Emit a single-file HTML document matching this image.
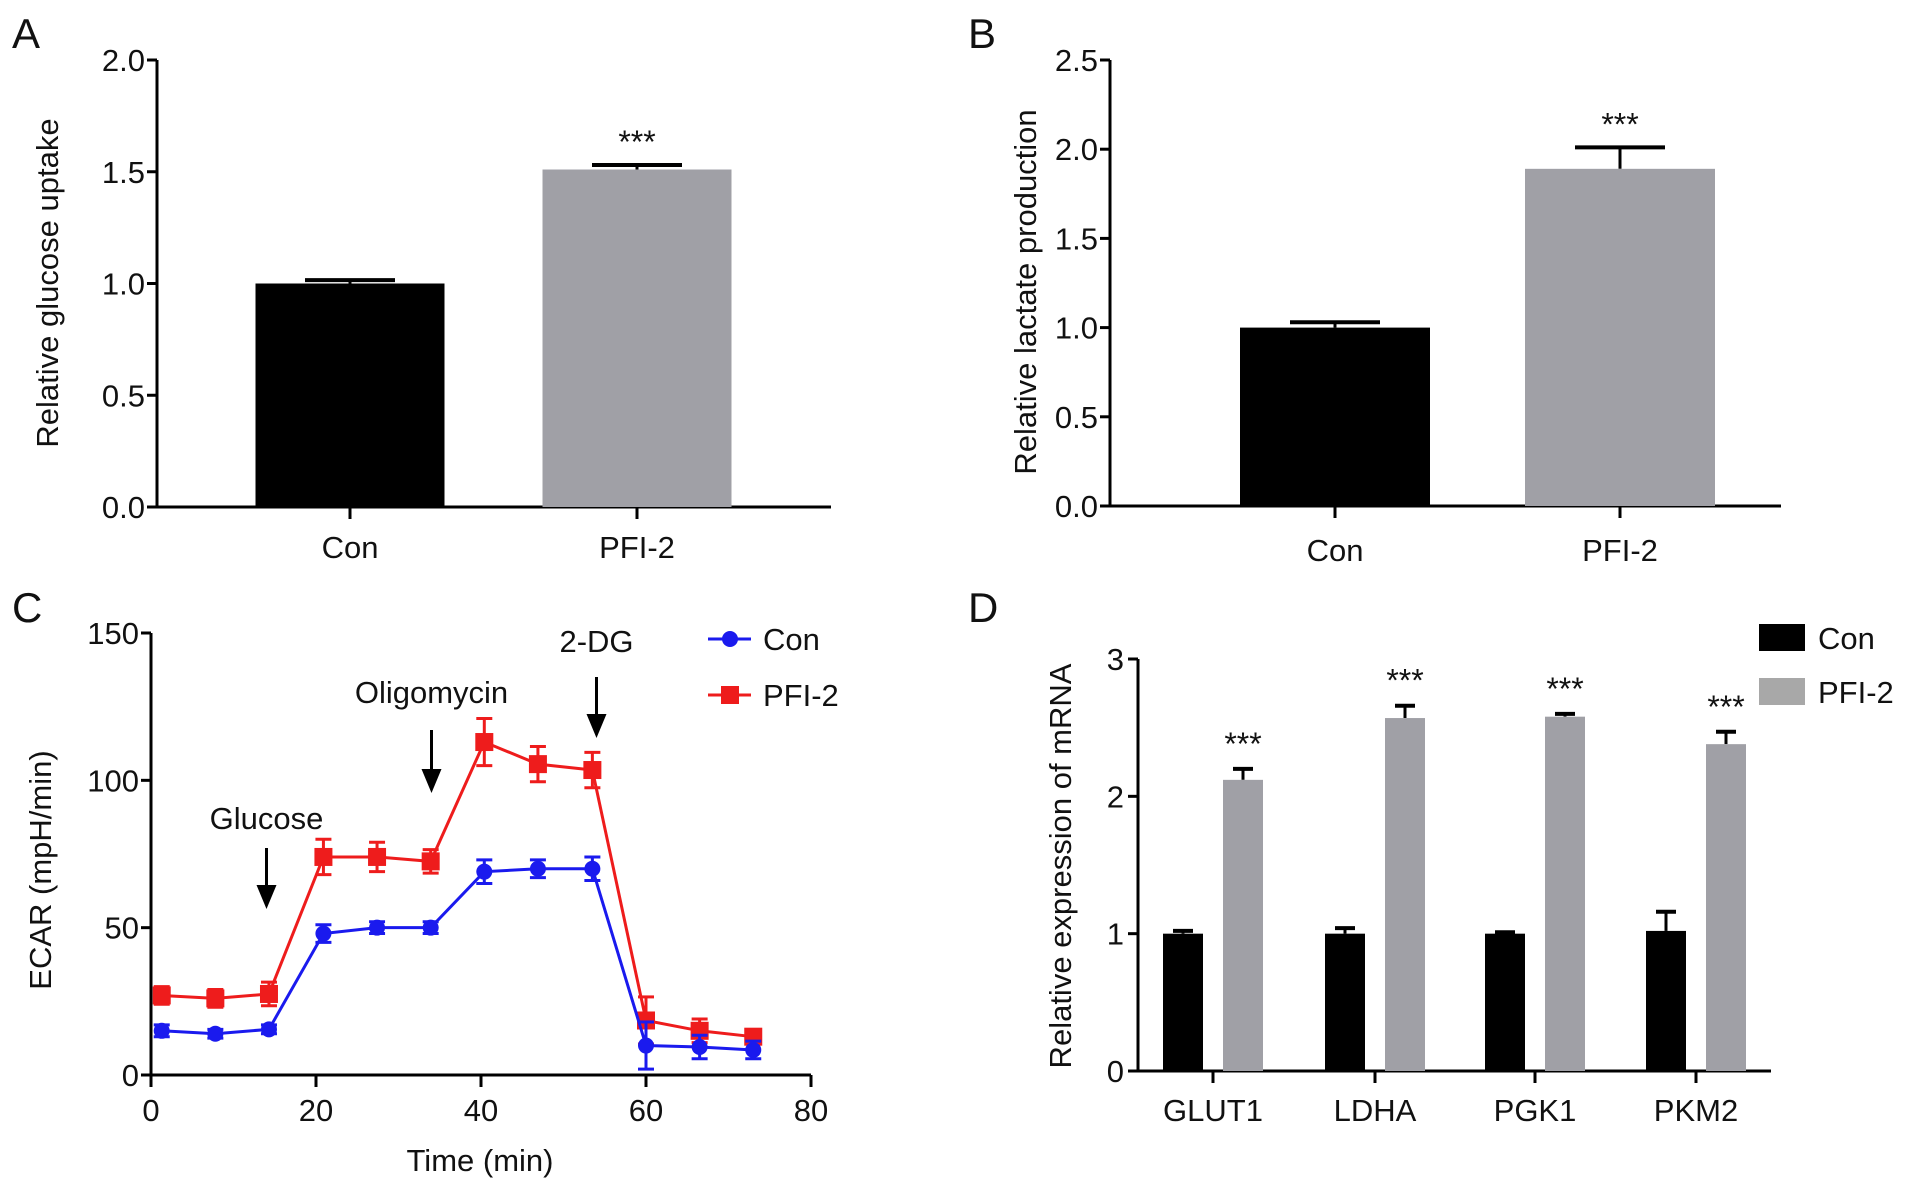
<!DOCTYPE html>
<html><head><meta charset="utf-8"><style>
html,body{margin:0;padding:0;background:#fff;}
svg{display:block;font-family:"Liberation Sans",Arial,sans-serif;}
</style></head><body>
<svg id="fig" width="1913" height="1189" viewBox="0 0 1913 1189"></svg>
<script>
// Panel A data
const aCats = ["Con","PFI-2"];
const aVals = [1.0, 1.51];
const aErrs = [0.015, 0.02];
const aTicks = [0,0.5,1.0,1.5,2.0];
// Panel B data
const bCats = ["Con","PFI-2"];
const bVals = [1.0, 1.89];
const bErrs = [0.03, 0.12];
const bTicks = [0,0.5,1.0,1.5,2.0,2.5];
// Panel C data
const cTimes = [1.3,7.8,14.3,20.9,27.4,33.9,40.4,46.9,53.5,60,66.5,73];
const cCon = [15,14,15.5,48,50,50,69,70,70,10,9.5,8.5];
const cConErr = [2,1.5,1.5,3,2,2,4,3,4,8,4,3];
const cPfi = [27,26,27.5,74,74,72.5,113,105.5,103.5,18.5,15,13];
const cPfiErr = [3,3,4,6,5,4,8,6,6,8,4,2];
const cXTicks = [0,20,40,60,80];
const cYTicks = [0,50,100,150];
// Panel D data
const dCats = ["GLUT1","LDHA","PGK1","PKM2"];
const dCon = [1.0,1.0,1.0,1.02];
const dConErr = [0.02,0.04,0.01,0.14];
const dPfi = [2.12,2.57,2.58,2.38];
const dPfiErr = [0.08,0.09,0.02,0.09];
const dTicks = [0,1,2,3];

const svg = document.getElementById('fig');
const NS = 'http://www.w3.org/2000/svg';
const TF = 31;
function mk(tag, attrs, text){
  const e = document.createElementNS(NS, tag);
  for (const k in attrs) e.setAttribute(k, attrs[k]);
  if (text !== undefined) e.textContent = text;
  svg.appendChild(e);
  return e;
}
function line(x1,y1,x2,y2,c,w){return mk('line',{x1:x1,y1:y1,x2:x2,y2:y2,stroke:c||'#000','stroke-width':w||3});}
function txt(x,y,s,size,anchor,extra){
  return mk('text',Object.assign({x:x,y:y,'font-size':size||TF,'text-anchor':anchor||'middle',fill:'#111'},extra||{}),s);
}
function panelLetter(x,y,s){
  const t = txt(x,y,s,42,'start');
  
  
}

function barPanel(p){
  const ys = v => p.y0 - v/p.ymax * (p.y0 - p.ytop);
  const ax = line(p.x0, p.y0, p.x0, p.ytop);
  
  
  const xa = line(p.x0-2, p.y0, p.xend, p.y0);
  
  
  p.ticks.forEach(t=>{
    line(p.x0-10, ys(t), p.x0, ys(t));
    const l = txt(p.x0-12, ys(t)+11, t.toFixed(1), TF, 'end');
    
    
  });
  p.cats.forEach((c,i)=>{
    const cx = p.centers[i];
    const v = p.vals[i], e = p.errs[i];
    line(cx, ys(v), cx, ys(v+e), '#000', 3);
    line(cx-p.capw, ys(v+e), cx+p.capw, ys(v+e), '#000', 4);
    const r = mk('rect',{x:cx-p.bw/2, y:ys(v), width:p.bw, height:p.y0-ys(v), fill: i===0?'#000':'#a0a0a6'});
    
    
    line(cx, p.y0, cx, p.y0+12);
    const l = txt(cx, p.labelY, c, TF);
    
    
  });
  const s = txt(p.centers[1], ys(p.vals[1]+p.errs[1])-12, '***', 32);
  
  
  const yl = txt(0,0,p.ylabel,TF,'middle',{transform:'translate('+p.ylx+','+p.lyc+') rotate(-90)'});
  
  
}

panelLetter(12,48,'A');
barPanel({id:'a',x0:157,y0:507,ytop:60,xend:831,ymax:2.0,ticks:aTicks,cats:aCats,vals:aVals,errs:aErrs,
  centers:[350,637],bw:189,capw:45,labelY:558,ylabel:'Relative glucose uptake',ylx:58,lyc:283});

panelLetter(968,48,'B');
barPanel({id:'b',x0:1110,y0:506,ytop:60,xend:1781,ymax:2.5,ticks:bTicks,cats:bCats,vals:bVals,errs:bErrs,
  centers:[1335,1620],bw:190,capw:45,labelY:561,ylabel:'Relative lactate production',ylx:1036,lyc:292});

// Panel C
panelLetter(12,622,'C');
(function(){
  const x0=151, x1=811, y0=1075, yt=633;
  const xs = v => x0 + v/80*(x1-x0);
  const ys = v => y0 - v/150*(y0-yt);
  let e = line(x0,y0,x0,yt);  
  e = line(x0-2,y0,x1,y0);  
  cYTicks.forEach(t=>{ line(x0-10,ys(t),x0,ys(t)); const l=txt(x0-12,ys(t)+11,String(t),TF,'end');
     });
  cXTicks.forEach(t=>{ line(xs(t),y0,xs(t),y0+12); const l=txt(xs(t),y0+46,String(t),TF);
     });
  let l = txt(480,1171,'Time (min)',TF);  
  l = txt(0,0,'ECAR (mpH/min)',TF,'middle',{transform:'translate(51,870) rotate(-90)'});
   
  function series(vals, errs, color, shape, name){
    const pts = cTimes.map((t,i)=>xs(t)+','+ys(vals[i])).join(' ');
    const pl = mk('polyline',{points:pts,fill:'none',stroke:color,'stroke-width':3});
     
    cTimes.forEach((t,i)=>{
      const cx=xs(t), cy=ys(vals[i]), e=errs[i];
      line(cx,ys(vals[i]-e),cx,ys(vals[i]+e),color,3);
      line(cx-8,ys(vals[i]+e),cx+8,ys(vals[i]+e),color,3);
      line(cx-8,ys(vals[i]-e),cx+8,ys(vals[i]-e),color,3);
      let m;
      if(shape==='circle') m=mk('circle',{cx:cx,cy:cy,r:8,fill:color});
      else m=mk('rect',{x:cx-9,y:cy-9,width:18,height:18,fill:color});
       
    });
  }
  series(cPfi,cPfiErr,'#ee1c1c','square','pfi2');
  series(cCon,cConErr,'#1a1aee','circle','con');
  function arrow(x,yA,yB,label,ly){
    line(x,yA,x,yB-16,'#000',3);
    const a=mk('polygon',{points:(x-10)+','+(yB-24)+' '+(x+10)+','+(yB-24)+' '+x+','+yB,fill:'#000'});
     
    const t=txt(x,ly,label,TF);  
  }
  arrow(xs(14),848,909,'Glucose',829);
  arrow(xs(34),730,793,'Oligomycin',703);
  arrow(xs(54),677,738,'2-DG',652);
  line(708,639,751,639,'#1a1aee',3); let m=mk('circle',{cx:730,cy:639,r:8,fill:'#1a1aee'});
   
  l=txt(763,650,'Con',TF,'start');  
  line(708,695,751,695,'#ee1c1c',3); m=mk('rect',{x:721,y:686,width:18,height:18,fill:'#ee1c1c'});
   
  l=txt(763,706,'PFI-2',TF,'start');  
})();

// Panel D
panelLetter(968,622,'D');
(function(){
  const x0=1138, x1=1771, y0=1071, yt=659;
  const ys = v => y0 - v/3*(y0-yt);
  const centers=[1213,1375,1535,1696];
  let e=line(x0,y0,x0,yt);  
  e=line(x0-2,y0,x1,y0);  
  dTicks.forEach(t=>{ line(x0-10,ys(t),x0,ys(t)); const l=txt(x0-14,ys(t)+11,String(t),TF,'end');
     });
  dCats.forEach((c,i)=>{
    const cx=centers[i];
    [[dCon,dConErr,'#000',-30,'con'],[dPfi,dPfiErr,'#a0a0a6',30,'pfi2']].forEach(s=>{
      const bx=cx+s[3], v=s[0][i], er=s[1][i];
      line(bx,ys(v),bx,ys(v+er),'#000',3);
      line(bx-10,ys(v+er),bx+10,ys(v+er),'#000',4);
      const r=mk('rect',{x:bx-20,y:ys(v),width:40,height:y0-ys(v),fill:s[2]});
       
    });
    const st=txt(cx+30,ys(dPfi[i]+dPfiErr[i])-14,'***',32);
     
    line(cx,y0,cx,y0+12);
    const l=txt(cx,y0+50,c,TF);  
  });
  let l=txt(0,0,'Relative expression of mRNA',TF,'middle',{transform:'translate(1071,866) rotate(-90)'});
   
  let m=mk('rect',{x:1759,y:624,width:46,height:27,fill:'#000'});  
  l=txt(1818,649,'Con',TF,'start');  
  m=mk('rect',{x:1759,y:678,width:46,height:27,fill:'#a8a8a8'});  
  l=txt(1818,703,'PFI-2',TF,'start');  
})();
</script>
</body></html>
